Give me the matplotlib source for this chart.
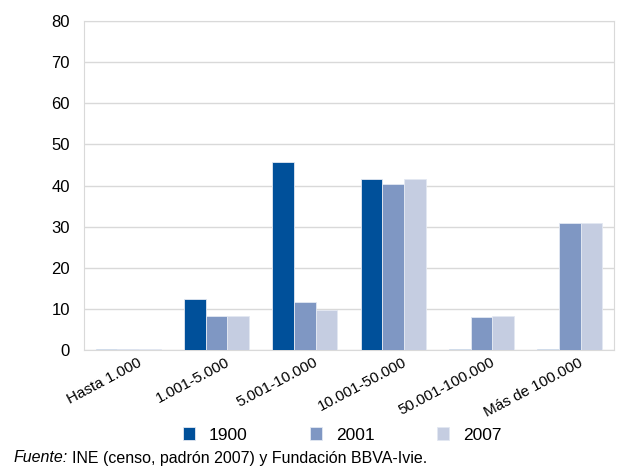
import matplotlib
matplotlib.use('Agg')
import matplotlib.pyplot as plt
import matplotlib.transforms as mtransforms
import numpy as np

plt.rcParams['font.family'] = ['Liberation Sans', 'DejaVu Sans']

# ── Data ──────────────────────────────────────────────────────────────────────
CATEGORIES = ['Hasta 1.000', '1.001-5.000', '5.001-10.000', '10.001-50.000',
              '50.001-100.000', 'Más de 100.000']
YEARS = ['1900', '2001', '2007']
V_1900 = [0.25, 12.4, 45.6, 41.6, 0.25, 0.25]
V_2001 = [0.2, 8.2, 11.7, 40.3, 8.1, 30.9]
V_2007 = [0.15, 8.2, 9.8, 41.7, 8.3, 31.0]
COLORS = ['#00509A', '#7F97C3', '#C5CDE1']

fig = plt.figure(figsize=(6.24, 4.70), dpi=100)
ax = fig.add_axes([84 / 624, 1 - 350 / 470, 530 / 624, 329 / 470])

x = np.arange(len(CATEGORIES))
w = 0.245
for i, (vals, c, lab) in enumerate(zip([V_1900, V_2001, V_2007], COLORS, YEARS)):
    ax.bar(x + (i - 1) * w, vals, width=w, color=c, edgecolor='#E3E8F2',
           linewidth=0.6, label=lab, zorder=3)

ax.set_xlim(-0.5, len(CATEGORIES) - 0.5)
ax.set_ylim(0, 80)
ax.set_yticks(range(0, 81, 10))
ax.tick_params(axis='y', length=0, labelsize=12, pad=10)
ax.tick_params(axis='x', length=0, labelsize=11, pad=4)
ax.grid(axis='y', color='#D9D9D9', linewidth=1, zorder=0)
for s in ax.spines.values():
    s.set_color('#D9D9D9')

ax.set_xticks(x)
ax.set_xticklabels(CATEGORIES, rotation=28, ha='right', rotation_mode='anchor')
offset = mtransforms.ScaledTranslation(9 / 100, 0, fig.dpi_scale_trans)
for lbl in ax.get_xticklabels():
    lbl.set_transform(lbl.get_transform() + offset)

fig.legend(loc='center', bbox_to_anchor=(342 / 624, 1 - 435 / 470), ncol=3,
           frameon=False, fontsize=12.5, handlelength=0.7, handleheight=0.7,
           columnspacing=3.6, handletextpad=0.8)

t1 = fig.text(14 / 624, 1 - 458 / 470, 'Fuente:', fontsize=11.5, style='italic',
              va='center')
fig.canvas.draw()
bb = t1.get_window_extent()
fig.text((bb.x1 + 4) / 624, 1 - 458 / 470,
         'INE (censo, padrón 2007) y Fundación BBVA-Ivie.',
         fontsize=11.5, va='center')

fig.savefig('out.png', dpi=100)
